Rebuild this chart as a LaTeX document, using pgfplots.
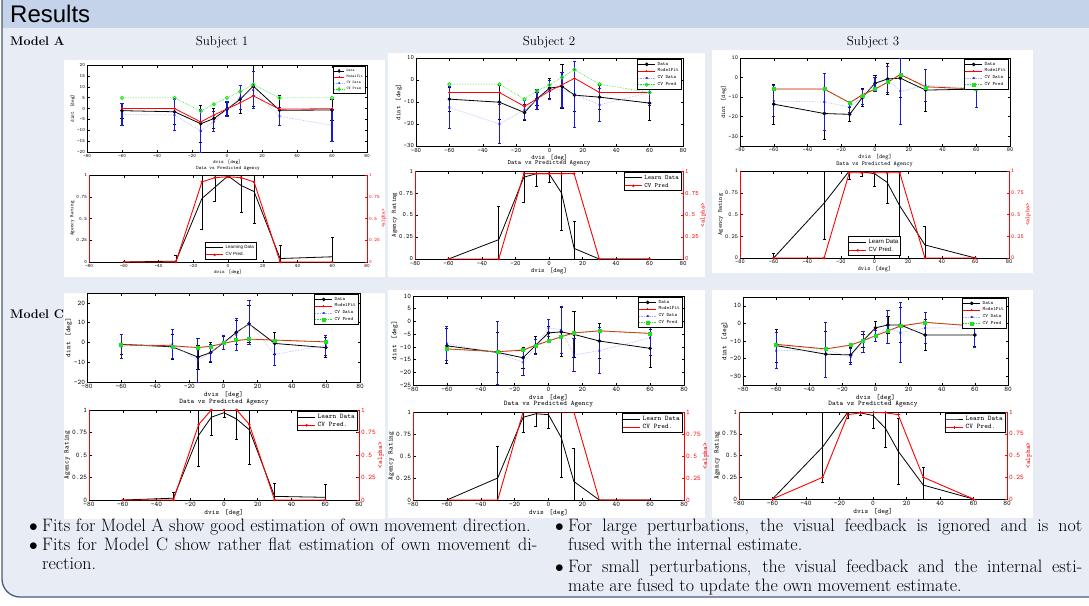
\documentclass[border=0pt]{standalone}
\usepackage{fontspec}
\usepackage{pgfplots}
\pgfplotsset{compat=1.18}
\newfontfamily\sansfont{Liberation Sans}
\definecolor{bg}{RGB}{232,236,245}
\definecolor{hdr}{RGB}{196,210,234}
\definecolor{frm}{RGB}{75,90,125}
\definecolor{cvblue}{RGB}{165,170,250}
\definecolor{ebblue}{RGB}{25,25,215}
\definecolor{cvgreen}{RGB}{30,225,30}
\definecolor{navy}{RGB}{20,20,120}

\pgfplotsset{
  base/.style={scale only axis, xmin=-80, xmax=80, xtick={-80,-60,...,80},
    tick label style={font=\ttfamily\fontsize{#1}{#1}\selectfont},
    label style={font=\ttfamily\fontsize{#1}{#1}\selectfont},
    /pgf/number format/assume math mode=true,
    tick align=inside, major tick length=2.5pt,
    axis line style={line width=0.9pt},
    every tick/.style={black, line width=0.5pt},
    xlabel={dvis\hspace{0.8em}[deg]},
    xlabel style={yshift=4pt},
    ylabel style={yshift=-5pt},
    xticklabel style={yshift=1.5pt},
    yticklabel style={xshift=1.5pt},
    clip=true,
    legend cell align=left,
  },
  topax/.style={base=#1, ylabel={dint\hspace{0.8em}[deg]}},
  botax/.style={base=#1, ymin=0, ymax=1, ytick={0,0.25,0.5,0.75,1}, ylabel={Agency Rating},
    title={Data vs Predicted Agency}, title style={font=\ttfamily\fontsize{#1}{#1}\selectfont, yshift=-5pt}},
  redax/.style={scale only axis, xmin=-80, xmax=80, ymin=0, ymax=1, axis x line=none, axis y line*=right,
    ytick={0,0.25,0.5,0.75,1}, tick align=inside, major tick length=2.5pt,
    y axis line style={red, line width=0.9pt}, every tick/.style={red, line width=0.5pt},
    yticklabel style={font=\ttfamily\fontsize{#1}{#1}\selectfont, text=red, xshift=-1.5pt},
    ylabel={<alpha>}, ylabel style={font=\ttfamily\fontsize{#1}{#1}\selectfont, text=red, yshift=5pt},
    /pgf/number format/assume math mode=true},
  tleg/.style={legend style={font=\ttfamily\fontsize{#1}{#1}\selectfont, at={(0.995,0.985)}, anchor=north east,
    inner sep=0.3pt, row sep=-1.8pt, draw=black, line width=1pt, fill=white}},
  bleg/.style={legend style={font=\ttfamily\fontsize{#1}{#1}\selectfont, at={(0.995,0.985)}, anchor=north east,
    inner sep=0.3pt, row sep=-1.5pt, draw=black, line width=1pt, fill=white}},
  dat/.style={black, line width=0.8pt, mark=*, mark size=1.4pt, mark options={solid, fill=navy, draw=black},
    error bars/.cd, y dir=both, y explicit, error bar style={black, line width=0.8pt},
    error mark options={rotate=90, black, mark size=1.6pt, line width=0.8pt}},
  fit/.style={red, line width=0.8pt, mark=+, mark size=1.3pt},
  cvd/.style={cvblue, densely dotted, line width=0.6pt, mark=x, mark size=1.2pt, mark options={solid, ebblue},
    error bars/.cd, y dir=both, y explicit, error bar style={ebblue, line width=1.1pt, solid},
    error mark options={rotate=90, ebblue, mark size=1.6pt, line width=1pt}},
  cvp/.style={cvgreen, densely dotted, line width=0.6pt, mark=o, mark size=1.6pt, mark options={solid, line width=0.9pt}},
  cvps/.style={cvgreen, densely dotted, line width=0.6pt, mark=square*, mark size=1.5pt, mark options={solid}},
  lrn/.style={black, line width=0.8pt, mark=none,
    error bars/.cd, y dir=both, y explicit, error bar style={black, line width=0.6pt},
    error mark options={rotate=90, black, mark size=1.5pt, line width=0.6pt}},
  prd/.style={red, line width=0.9pt, mark=*, mark size=0.8pt},
}

\begin{document}
\begin{tikzpicture}[x=1pt,y=1pt]
\path[use as bounding box] (0pt,0pt) rectangle (1089pt,-605pt);
\fill[white] (0pt,0pt) rectangle (1089pt,-605pt);
\fill[bg, rounded corners=18pt] (2pt,10pt) -- (2pt,-597pt) -- (1110pt,-597pt) -- (1110pt,10pt) -- cycle;
\fill[hdr] (2pt,0pt) rectangle (1089pt,-28pt);
\draw[frm, line width=1.3pt, rounded corners=18pt] (2pt,0pt) -- (2pt,-597pt) -- (1110pt,-597pt);
\node[anchor=base west, inner sep=0, font=\sansfont\fontsize{24}{24}\selectfont] at (10pt,-22pt) {Results};

% white panels
\fill[white] (64pt,-60pt) rectangle (385pt,-277pt);
\fill[white] (388pt,-53pt) rectangle (705pt,-277pt);
\fill[white] (712pt,-50pt) rectangle (1033pt,-273pt);
\fill[white] (64pt,-293pt) rectangle (385pt,-519pt);
\fill[white] (388pt,-290pt) rectangle (705pt,-518pt);
\fill[white] (712pt,-290pt) rectangle (1033pt,-518pt);

\node[anchor=base west, inner sep=0, font=\bfseries\fontsize{12.5}{12.5}\selectfont] at (10pt,-45pt) {Model A};
\node[anchor=base west, inner sep=0, font=\bfseries\fontsize{12.5}{12.5}\selectfont] at (10pt,-318pt) {Model C};
\node[anchor=base, inner sep=0, font=\fontsize{13}{13}\selectfont] at (222pt,-45pt) {Subject 1};
\node[anchor=base, inner sep=0, font=\fontsize{13}{13}\selectfont] at (549pt,-45pt) {Subject 2};
\node[anchor=base, inner sep=0, font=\fontsize{13}{13}\selectfont] at (873pt,-45pt) {Subject 3};

% ===== Model A, Subject 1 =====
\begin{axis}[topax=5, tleg=3.8, at={(87pt,-65pt)}, anchor=north west, width=280pt, height=87pt,
  ymin=-20, ymax=20, ytick={-20,-15,...,20}, legend image post style={xscale=0.6}]
\addplot[dat] coordinates {(-60,-1) +- (0,3.5) (-30,-1.5) +- (0,6) (-15,-7) +- (0,8.5) (-7.5,-4.6) +- (0,4.5) (0,-0.3) +- (0,3) (7.5,4.2) +- (0,6.5) (15,10.3) +- (0,9.5) (30,-0.8) +- (0,7) (60,-0.7) +- (0,5)};
\addplot[fit] coordinates {(-60,0) (-30,0) (-15,-6.2) (-7.5,-3) (0,-0.2) (7.5,2.6) (15,5.8) (30,-0.3) (60,-0.1)};
\addplot[cvd] coordinates {(-60,-2.8) +- (0,5) (-30,-3) +- (0,7) (-15,-10.3) +- (0,9.7) (-7.5,-6) +- (0,4.5) (0,-0.3) +- (0,3.5) (7.5,5) +- (0,5.5) (15,8.5) +- (0,8.5) (30,-3.6) +- (0,4) (60,-7.7) +- (0,7.3)};
\addplot[cvp] coordinates {(-60,4.9) (-30,4.9) (-15,-1.2) (-7.5,2) (0,4.9) (7.5,7.8) (15,11) (30,4.9) (60,4.9)};
\legend{Data,ModelFit,CV Data,CV Pred}
\end{axis}
\begin{axis}[botax=5, name=a1b, at={(89pt,-175pt)}, anchor=north west, width=278pt, height=87pt,
  legend style={font=\sansfont\fontsize{4.5}{4.5}\selectfont, at={(0.51,0.02)}, anchor=south, inner sep=0.5pt, row sep=-1.5pt, draw=black, line width=1pt}]
\addplot[lrn] coordinates {(-60,0) +- (0,0) (-30,0.01) +- (0,0.07) (-15,0.73) +- (0,0.35) (-7.5,0.86) +- (0,0.16) (0,0.99) +- (0,0.02) (7.5,0.88) +- (0,0.31) (15,0.81) +- (0,0.37) (30,0.04) +- (0,0.15) (60,0.06) +- (0,0.22)};
\addplot[prd] coordinates {(-60,0) (-30,0) (-15,0.92) (-7.5,0.97) (0,0.98) (7.5,0.97) (15,0.92) (30,0) (60,0)};
\legend{Learning Data,CV Pred.}
\end{axis}
\begin{axis}[redax=5, at={(89pt,-175pt)}, anchor=north west, width=278pt, height=87pt]
\end{axis}
\draw[red, line width=0.9pt] (a1b.south west) -- (a1b.north west);

% ===== Model A, Subject 2 =====
\begin{axis}[topax=6.5, tleg=5, at={(416pt,-58pt)}, anchor=north west, width=267pt, height=88pt,
  ymin=-30, ymax=10, ytick={-30,-20,...,10}]
\addplot[dat] coordinates {(-60,-8.7) +- (0,5.5) (-30,-10.1) +- (0,7.8) (-15,-14.8) +- (0,3.5) (-7.5,-8.6) +- (0,3) (0,-3.7) +- (0,4.5) (7.5,-2.9) +- (0,10) (15,-6.9) +- (0,7.5) (30,-7.8) +- (0,5.5) (60,-10.5) +- (0,8)};
\addplot[fit] coordinates {(-60,-5.7) (-30,-5.7) (-15,-12) (-7.5,-8.6) (0,-5) (7.5,-2.2) (15,0.8) (30,-5.7) (60,-5.7)};
\addplot[cvd] coordinates {(-60,-12.5) +- (0,9.5) (-30,-20) +- (0,8.8) (-15,-13.6) +- (0,4.5) (-7.5,-9) +- (0,4.5) (0,-4.5) +- (0,4.5) (7.5,-4.5) +- (0,8) (15,-6.5) +- (0,15) (30,-11.3) +- (0,7.5) (60,-5.7) +- (0,6)};
\addplot[cvp] coordinates {(-60,-1.9) (-30,-1.9) (-15,-8.7) (-7.5,-4.9) (0,-2.2) (7.5,1.2) (15,4.7) (30,-1.9) (60,-5.7)};
\legend{Data,ModelFit,CV Data,CV Pred}
\end{axis}
\begin{axis}[botax=6.5, bleg=6.5, name=a2b, at={(415pt,-171pt)}, anchor=north west, width=268pt, height=88pt]
\addplot[lrn] coordinates {(-60,0) +- (0,0) (-30,0.22) +- (0,0.38) (-15,0.93) +- (0,0.28) (-7.5,0.97) +- (0,0.14) (0,0.97) +- (0,0.1) (7.5,0.75) +- (0,0.42) (15,0.12) +- (0,0.31) (30,0) +- (0,0) (60,0) +- (0,0)};
\addplot[prd] coordinates {(-60,0) (-30,0) (-15,0.97) (-7.5,0.97) (0,0.97) (7.5,0.97) (15,0.97) (30,0) (60,0)};
\legend{Learn Data,CV Pred}
\end{axis}
\begin{axis}[redax=6.5, at={(415pt,-171pt)}, anchor=north west, width=268pt, height=88pt]
\end{axis}
\draw[red, line width=0.9pt] (a2b.south west) -- (a2b.north west);

% ===== Model A, Subject 3 =====
\begin{axis}[topax=6, tleg=5, at={(740pt,-58pt)}, anchor=north west, width=270pt, height=88pt,
  ymin=-35, ymax=10, ytick={-30,-20,...,10}]
\addplot[dat] coordinates {(-60,-13.6) +- (0,10.3) (-30,-18.4) +- (0,13) (-15,-18.8) +- (0,3.5) (-7.5,-10.2) +- (0,4.5) (0,-2.9) +- (0,4) (7.5,-0.7) +- (0,8) (15,-0.3) +- (0,10) (30,-6.4) +- (0,10.7) (60,-5.9) +- (0,0.5)};
\addplot[fit] coordinates {(-60,-5.9) (-30,-5.9) (-15,-12.9) (-7.5,-8.8) (0,-5.9) (7.5,-2.4) (15,1.6) (30,-4.7) (60,-5.9)};
\addplot[cvd] coordinates {(-60,-12) +- (0,8) (-30,-12.5) +- (0,14.5) (-15,-15) +- (0,3) (-7.5,-10) +- (0,4) (0,-3.5) +- (0,3.5) (7.5,-1) +- (0,6.5) (15,-7) +- (0,17) (30,-4) +- (0,8) (60,-5.5) +- (0,10)};
\addplot[cvps] coordinates {(-60,-5.9) (-30,-5.9) (-15,-12.9) (-7.5,-9.3) (0,-5.9) (7.5,-2.4) (15,1.4) (30,-5) (60,-5.9)};
\legend{Data,ModelFit,CV Data,CV Pred}
\end{axis}
\begin{axis}[botax=6, name=a3b, at={(740pt,-171pt)}, anchor=north west, width=269pt, height=87pt,
  legend style={font=\sansfont\fontsize{6}{6}\selectfont, at={(0.5,0.02)}, anchor=south, inner sep=0.5pt, row sep=-1.5pt, draw=black, line width=1pt}]
\addplot[lrn] coordinates {(-60,0) +- (0,0.05) (-30,0.63) +- (0,0.41) (-15,1.0) +- (0,0.09) (-7.5,0.99) +- (0,0.05) (0,0.97) +- (0,0.15) (7.5,0.87) +- (0,0.24) (15,0.6) +- (0,0.6) (30,0.15) +- (0,0.21) (60,0) +- (0,0)};
\addplot[prd] coordinates {(-60,0) (-30,0) (-15,0.98) (-7.5,0.98) (0,0.98) (7.5,0.98) (15,0.98) (30,0) (60,0)};
\legend{Learn Data,CV Pred.}
\end{axis}
\begin{axis}[redax=6, at={(740pt,-171pt)}, anchor=north west, width=269pt, height=87pt]
\end{axis}
\draw[red, line width=0.9pt] (a3b.south west) -- (a3b.north west);

% ===== Model C, Subject 1 =====
\begin{axis}[topax=7, tleg=5, at={(87pt,-293pt)}, anchor=north west, width=273pt, height=89pt,
  ymin=-20, ymax=25, ytick={-20,-10,...,20}]
\addplot[dat] coordinates {(-60,-1) +- (0,5) (-30,-2.2) +- (0,6.5) (-15,-7.4) +- (0,6) (-7.5,-5.1) +- (0,5) (0,-0.2) +- (0,3.5) (7.5,5.1) +- (0,6) (15,9.4) +- (0,9.5) (30,-0.5) +- (0,5.5) (60,-2.6) +- (0,5)};
\addplot[fit] coordinates {(-60,-1.1) (-30,-1.7) (-15,-2.6) (-7.5,-1.9) (0,-0.5) (7.5,0.9) (15,1.7) (30,1.2) (60,0.3)};
\addplot[cvd] coordinates {(-60,-2) +- (0,6) (-30,-1) +- (0,7.3) (-15,-9) +- (0,11) (-7.5,-5.3) +- (0,4.5) (0,-0.2) +- (0,3.6) (7.5,4) +- (0,8) (15,10) +- (0,11) (30,-6) +- (0,5.5) (60,-1.5) +- (0,5)};
\addplot[cvps] coordinates {(-60,-1.2) (-30,-2) (-15,-2.6) (-7.5,-2) (0,-0.4) (7.5,1.1) (15,1.6) (30,1) (60,0.3)};
\legend{Data,ModelFit,CV Data,CV Pred}
\end{axis}
\begin{axis}[botax=7, bleg=7, name=c1b, at={(89pt,-410pt)}, anchor=north west, width=270pt, height=90pt]
\addplot[lrn] coordinates {(-60,0) +- (0,0) (-30,0.02) +- (0,0.07) (-15,0.72) +- (0,0.34) (-7.5,0.92) +- (0,0.2) (0,0.97) +- (0,0.05) (7.5,0.9) +- (0,0.22) (15,0.78) +- (0,0.38) (30,0.04) +- (0,0.15) (60,0.03) +- (0,0.14)};
\addplot[prd] coordinates {(-60,0) (-30,0) (-15,0.84) (-7.5,1) (0,1) (7.5,1) (15,0.84) (30,0) (60,0)};
\legend{Learn Data,CV Pred.}
\end{axis}
\begin{axis}[redax=7, at={(89pt,-410pt)}, anchor=north west, width=270pt, height=90pt]
\end{axis}
\draw[red, line width=0.9pt] (c1b.south west) -- (c1b.north west);

% ===== Model C, Subject 2 =====
\begin{axis}[topax=7, tleg=5, at={(413pt,-296pt)}, anchor=north west, width=271pt, height=89pt,
  ymin=-25, ymax=10, ytick={-25,-20,...,10}]
\addplot[dat] coordinates {(-60,-9.6) +- (0,6.8) (-30,-12.2) +- (0,7.8) (-15,-14.3) +- (0,4) (-7.5,-9.3) +- (0,3.4) (0,-4.5) +- (0,2.5) (7.5,-4.1) +- (0,9.6) (15,-5.1) +- (0,9) (30,-7.7) +- (0,7) (60,-10.6) +- (0,7.5)};
\addplot[fit] coordinates {(-60,-10.8) (-30,-11.9) (-15,-11.3) (-7.5,-9.3) (0,-7.7) (7.5,-6) (15,-4.5) (30,-3.7) (60,-4.7)};
\addplot[cvd] coordinates {(-60,-8.7) +- (0,6.6) (-30,-12.4) +- (0,12.4) (-15,-16.1) +- (0,5) (-7.5,-10) +- (0,3) (0,-2.5) +- (0,3.3) (7.5,-3.3) +- (0,9.3) (15,-13.2) +- (0,6.5) (30,-11.5) +- (0,9) (60,-6.4) +- (0,7)};
\addplot[cvps] coordinates {(-60,-10.8) (-30,-11.9) (-15,-11) (-7.5,-9.6) (0,-7.7) (7.5,-6) (15,-4.5) (30,-3.7) (60,-4.7)};
\legend{Data,ModelFit,CV Data,CV Pred}
\end{axis}
\begin{axis}[botax=7, bleg=7, name=c2b, at={(413pt,-412pt)}, anchor=north west, width=271pt, height=88pt]
\addplot[lrn] coordinates {(-60,0) +- (0,0) (-30,0.25) +- (0,0.36) (-15,0.94) +- (0,0.17) (-7.5,0.98) +- (0,0.14) (0,0.97) +- (0,0.15) (7.5,0.71) +- (0,0.45) (15,0.21) +- (0,0.38) (30,0) +- (0,0) (60,0) +- (0,0)};
\addplot[prd, mark=none] coordinates {(-60,0) (-30,0) (-15,1) (-7.5,1) (0,1) (7.5,1) (15,1) (30,0) (60,0)};
\legend{Learn Data,CV Pred.}
\end{axis}
\begin{axis}[redax=7, at={(413pt,-412pt)}, anchor=north west, width=271pt, height=88pt]
\end{axis}
\draw[red, line width=0.9pt] (c2b.south west) -- (c2b.north west);

% ===== Model C, Subject 3 =====
\begin{axis}[topax=7, tleg=5, at={(743pt,-297pt)}, anchor=north west, width=265pt, height=88pt,
  ymin=-35, ymax=15, ytick={-30,-20,...,10}]
\addplot[dat] coordinates {(-60,-12.6) +- (0,9.3) (-30,-17.5) +- (0,13) (-15,-17.9) +- (0,4) (-7.5,-9.8) +- (0,3.7) (0,-2.5) +- (0,3.8) (7.5,-0.9) +- (0,5) (15,-0.9) +- (0,10) (30,-6.6) +- (0,9) (60,-6.6) +- (0,6.5)};
\addplot[fit] coordinates {(-60,-11.9) (-30,-14.5) (-15,-12.3) (-7.5,-9.8) (0,-7) (7.5,-4.3) (15,-1.5) (30,0.6) (60,-1.5)};
\addplot[cvd] coordinates {(-60,-15.5) +- (0,10.3) (-30,-15) +- (0,15.7) (-15,-19) +- (0,4.5) (-7.5,-10.6) +- (0,6) (0,-7) +- (0,3) (7.5,-2) +- (0,9.2) (15,-5.3) +- (0,17) (30,-2.6) +- (0,8.7) (60,-2.5) +- (0,11)};
\addplot[cvps] coordinates {(-60,-12.3) (-30,-14.7) (-15,-12.3) (-7.5,-9.8) (0,-7) (7.5,-4.3) (15,-1.3) (30,0.6) (60,-1.5)};
\legend{Data,ModelFit,CV Data,CV Pred}
\end{axis}
\begin{axis}[botax=7, bleg=7, name=c3b, at={(739pt,-412pt)}, anchor=north west, width=268pt, height=87pt]
\addplot[lrn] coordinates {(-60,0) +- (0,0) (-30,0.6) +- (0,0.41) (-15,1) +- (0,0.07) (-7.5,0.99) +- (0,0.03) (0,0.96) +- (0,0.15) (7.5,0.81) +- (0,0.22) (15,0.55) +- (0,0.38) (30,0.16) +- (0,0.21) (60,0) +- (0,0)};
\addplot[prd, mark=+, mark size=1.5pt] coordinates {(-60,0) (-30,0.25) (-15,0.97) (-7.5,0.99) (0,1) (7.5,0.99) (15,0.97) (30,0.25) (60,0)};
\legend{Learn Data,CV Pred.}
\end{axis}
\begin{axis}[redax=7, at={(739pt,-412pt)}, anchor=north west, width=268pt, height=87pt]
\end{axis}
\draw[red, line width=0.9pt] (c3b.south west) -- (c3b.north west);

% ===== bullet text =====
\begin{scope}[every node/.style={anchor=base west, inner sep=0, font=\fontsize{18}{20}\selectfont}]
\node at (29pt,-531pt) {$\bullet$};
\node at (42pt,-531pt) {Fits for Model A show good estimation of own movement direction.};
\node at (29pt,-550pt) {$\bullet$};
\node at (42pt,-550pt) {\makebox[495pt][s]{Fits for Model C show rather flat estimation of own movement di-}};
\node at (42pt,-569pt) {rection.};
\node at (555pt,-531pt) {$\bullet$};
\node at (568pt,-531pt) {\makebox[514pt][s]{For large perturbations, the visual feedback is ignored and is not}};
\node at (568pt,-550pt) {fused with the internal estimate.};
\node at (555pt,-572pt) {$\bullet$};
\node at (568pt,-572pt) {\makebox[514pt][s]{For small perturbations, the visual feedback and the internal esti-}};
\node at (568pt,-591pt) {mate are fused to update the own movement estimate.};
\end{scope}
\end{tikzpicture}
\end{document}
